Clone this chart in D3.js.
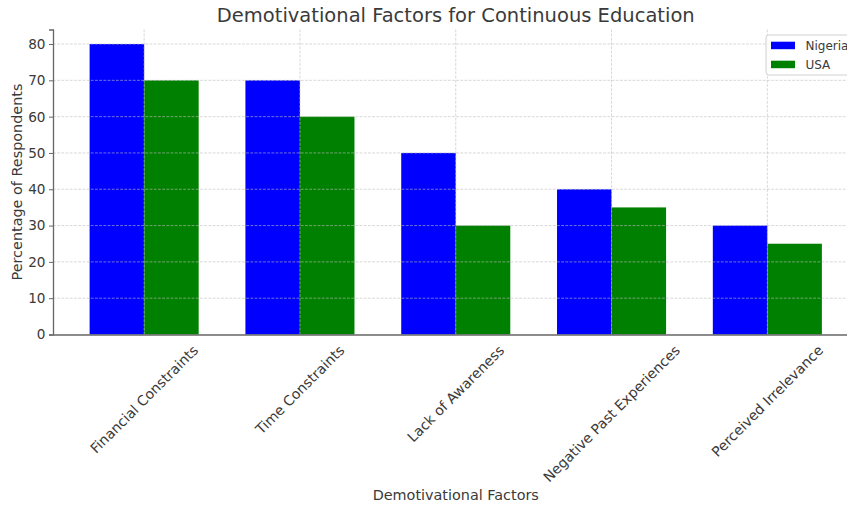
<!DOCTYPE html>
<html>
<head>
<meta charset="utf-8">
<script src="https://cdn.jsdelivr.net/npm/d3@7"></script>
<style>
  html, body { margin: 0; padding: 0; background: #fff; }
  svg { display: block; font-family: "DejaVu Sans", sans-serif; }
</style>
</head>
<body>
<svg id="chart" width="847" height="506"></svg>
<script>
const categories = ["Financial Constraints", "Time Constraints", "Lack of Awareness", "Negative Past Experiences", "Perceived Irrelevance"];
const nigeria = [80, 70, 50, 40, 30];
const usa = [70, 60, 30, 35, 25];
const seriesNames = ["Nigeria", "USA"];
const seriesColors = ["#0000ff", "#008000"];
const yTicks = [0, 10, 20, 30, 40, 50, 60, 70, 80];
const chartTitle = "Demotivational Factors for Continuous Education";
const xTitle = "Demotivational Factors";
const yTitle = "Percentage of Respondents";

(function () {
const barWidth = 0.35;
const svg = d3.select("#chart");
const mLeft = 53, mRight = 858.5, mTop = 29.5, mBottom = 334.5;

const x = d3.scaleLinear().domain([-0.585, categories.length - 1 + 0.585]).range([mLeft, mRight]);
const y = d3.scaleLinear().domain([0, 84]).range([mBottom, mTop]);
const textColor = "#3a3a3a";

// bars
const series = [nigeria, usa];
series.forEach((vals, s) => {
  svg.append("g").selectAll("rect").data(vals).join("rect")
    .attr("x", (d, i) => x(i + (s === 0 ? -barWidth : 0)))
    .attr("width", (d, i) => x(i + barWidth) - x(i))
    .attr("y", d => y(d))
    .attr("height", d => y(0) - y(d))
    .attr("fill", seriesColors[s]);
});

// grid (drawn on top, semi-transparent)
const grid = svg.append("g").attr("stroke", "rgba(190,190,190,0.75)").attr("stroke-width", 0.8).attr("stroke-dasharray", "2.8,1.4");
grid.selectAll("line.h").data(yTicks.slice(1)).join("line").attr("class", "h")
  .attr("x1", mLeft).attr("x2", mRight).attr("y1", d => y(d)).attr("y2", d => y(d));
grid.selectAll("line.v").data(categories.map((c, i) => i)).join("line").attr("class", "v")
  .attr("x1", d => x(d)).attr("x2", d => x(d)).attr("y1", mTop).attr("y2", mBottom);

// y axis
const yAxis = svg.append("g").attr("transform", `translate(${mLeft},0)`)
  .call(d3.axisLeft(y).tickValues(yTicks).tickSize(4).tickPadding(3.5).tickFormat(d3.format("d")));
yAxis.select(".domain").attr("stroke", "#666").attr("stroke-width", 1.3);
yAxis.selectAll(".tick line").attr("stroke", "#666");
yAxis.selectAll(".tick text").attr("fill", textColor).style("font-size", "13.6px").style("font-family", "DejaVu Sans");

// x axis line
const xAxis = svg.append("g").attr("transform", `translate(0,${mBottom})`)
  .call(d3.axisBottom(x).tickValues([]).tickSizeOuter(0));
xAxis.select(".domain").attr("stroke", "#666").attr("stroke-width", 1.3);

// x tick labels rotated 45, bbox centered on tick
const fsX = 14;
const labelTop = 342;
categories.forEach((c, i) => {
  const t = svg.append("text")
    .attr("text-anchor", "middle")
    .attr("dy", "0.35em")
    .attr("fill", textColor)
    .style("font-size", fsX + "px")
    .text(c);
  const L = t.node().getComputedTextLength();
  const H = 1.17 * fsX;
  const cy = labelTop + (L + H) / (2 * Math.SQRT2);
  t.attr("transform", `translate(${x(i)},${cy}) rotate(-45)`);
});

// titles
svg.append("text").attr("x", (mLeft + mRight) / 2).attr("y", 22.3)
  .attr("text-anchor", "middle").attr("fill", textColor).style("font-size", "19.5px").text(chartTitle);
svg.append("text").attr("x", (mLeft + mRight) / 2).attr("y", 500)
  .attr("text-anchor", "middle").attr("fill", textColor).style("font-size", "14.4px").text(xTitle);
svg.append("text").attr("transform", `translate(22,${(mTop + mBottom) / 2}) rotate(-90)`)
  .attr("text-anchor", "middle").attr("fill", textColor).style("font-size", "14.4px").text(yTitle);

// legend
const lg = svg.append("g");
lg.append("rect").attr("x", 766).attr("y", 35).attr("width", 110).attr("height", 40).attr("rx", 3)
  .attr("fill", "rgba(255,255,255,0.85)").attr("stroke", "#d0d0d0").attr("stroke-width", 1);
seriesNames.forEach((n, k) => {
  lg.append("rect").attr("x", 771).attr("y", 41.7 + k * 19).attr("width", 24).attr("height", 7.5).attr("fill", seriesColors[k]);
  lg.append("text").attr("x", 805.5).attr("y", 45.5 + k * 19).attr("dy", "0.35em")
    .attr("fill", textColor).style("font-size", "12px").text(n);
});
})();
</script>
</body>
</html>
